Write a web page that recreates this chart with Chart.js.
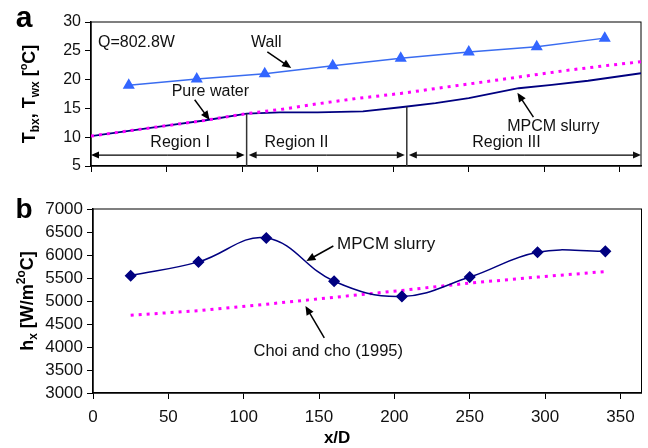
<!DOCTYPE html>
<html>
<head>
<meta charset="utf-8">
<script src="https://cdn.jsdelivr.net/npm/chart.js@4.4.1/dist/chart.umd.min.js"></script>
<style>
  html, body { margin: 0; padding: 0; background: #fff; }
  #wrap { position: relative; width: 648px; height: 448px; }
  #panelA { position: absolute; left: 0; top: 0; }
  #panelB { position: absolute; left: 0; top: 190px; }
</style>
</head>
<body>
<div id="wrap">
  <canvas id="panelA" width="648" height="190"></canvas>
  <canvas id="panelB" width="648" height="258"></canvas>
</div>
<script>
const FONT = "'Liberation Sans', Arial, Helvetica, sans-serif";

// shared x axis (x/D)
const xMax = 364;
const xTicks = [0, 50, 100, 150, 200, 250, 300, 350];

// panel a: bulk / wall temperatures
const wallX = [25, 70, 115, 160, 205, 250, 295, 340];
const wallT = [19.0, 20.1, 21.0, 22.4, 23.7, 24.8, 25.7, 27.2];
const waterX = [0, 25, 50, 75, 103, 125, 150, 175, 205, 235, 260, 290, 315, 340, 364];
const waterT = [10.2, 11.1, 12.0, 12.9, 14.1, 14.8, 15.8, 16.7, 17.6, 18.7, 19.6, 20.7, 21.6, 22.4, 23.1];
const slurryX = [0, 25, 50, 75, 103, 125, 150, 180, 205, 228, 250, 283, 305, 329, 364];
const slurryT = [10.2, 11.1, 12.0, 12.9, 14.1, 14.3, 14.3, 14.5, 15.2, 15.9, 16.8, 18.5, 19.1, 19.8, 21.1];
const tempTicks = [5, 10, 15, 20, 25, 30];

// regions along the tube
const regionX = [0, 103, 209, xMax];
const regionNames = ['Region I', 'Region II', 'Region III'];
const regionLabelX = [59, 136, 275];
const regionLineTopT = [14.1, 15.3];
const regionArrowT = 6.9;
const regionLabelT = 9.0;

// panel b: local heat transfer coefficient
const hX = [25, 70, 115, 160, 205, 250, 295, 340];
const hSlurry = [5550, 5850, 6370, 5430, 5100, 5520, 6060, 6080];
const hChoi = [4690, 4790, 4930, 5080, 5230, 5390, 5520, 5640];
const hTicks = [3000, 3500, 4000, 4500, 5000, 5500, 6000, 6500, 7000];

Chart.defaults.font.family = FONT;
Chart.defaults.color = '#111';

const pts = (xs, ys) => xs.map((v, i) => ({ x: v, y: ys[i] }));

function xAxis(labels, height) {
  return {
    type: 'linear', min: 0, max: xMax,
    afterBuildTicks: s => { s.ticks = xTicks.map(v => ({ value: v })); },
    afterFit: s => { s.height = height; },
    ticks: { display: labels, autoSkip: false, maxRotation: 0, padding: 8, font: { size: 17 }, color: '#111',
      callback: v => String(v) },
    grid: { display: true, drawOnChartArea: false, drawTicks: true, tickLength: 6, color: '#000', lineWidth: 1 },
    border: { display: true, color: '#000', width: 1.5 }
  };
}

function yAxis(ticks, width, size) {
  return {
    min: ticks[0], max: ticks[ticks.length - 1],
    afterBuildTicks: s => { s.ticks = ticks.map(v => ({ value: v })); },
    afterFit: s => { s.width = width; },
    ticks: { autoSkip: false, padding: 4, font: { size: size }, color: '#111', callback: v => String(v) },
    grid: { display: true, drawOnChartArea: false, drawTicks: true, tickLength: 6, color: '#000', lineWidth: 1 },
    border: { display: true, color: '#000', width: 1.5 }
  };
}

function arrow(ctx, x1, y1, x2, y2, len, half) {
  const a = Math.atan2(y2 - y1, x2 - x1);
  ctx.beginPath();
  ctx.moveTo(x1, y1);
  ctx.lineTo(x2 - Math.cos(a) * len * 0.8, y2 - Math.sin(a) * len * 0.8);
  ctx.stroke();
  ctx.beginPath();
  ctx.moveTo(x2, y2);
  ctx.lineTo(x2 - Math.cos(a) * len - Math.sin(a) * half, y2 - Math.sin(a) * len + Math.cos(a) * half);
  ctx.lineTo(x2 - Math.cos(a) * len + Math.sin(a) * half, y2 - Math.sin(a) * len - Math.cos(a) * half);
  ctx.closePath();
  ctx.fill();
}

// rotated axis title with sub/superscripts
function richTitle(ctx, parts, cx, cy) {
  ctx.save();
  ctx.translate(cx, cy);
  ctx.rotate(-Math.PI / 2);
  let total = 0;
  parts.forEach(p => { ctx.font = `bold ${p.size}px ${FONT}`; p.w = ctx.measureText(p.t).width; total += p.w; });
  let xx = -total / 2;
  ctx.fillStyle = '#000';
  ctx.textAlign = 'left';
  ctx.textBaseline = 'alphabetic';
  parts.forEach(p => { ctx.font = `bold ${p.size}px ${FONT}`; ctx.fillText(p.t, xx, p.dy || 0); xx += p.w; });
  ctx.restore();
}

function label(ctx, text, x, y, size, align) {
  ctx.font = `${size}px ${FONT}`;
  ctx.fillStyle = '#111';
  ctx.textAlign = align || 'center';
  ctx.textBaseline = 'middle';
  ctx.fillText(text, x, y);
}

const frame = {
  id: 'frame',
  beforeDatasetsDraw(chart) {
    const { ctx, chartArea: a } = chart;
    ctx.save();
    ctx.strokeStyle = '#000';
    ctx.lineWidth = 1;
    ctx.strokeRect(a.left, a.top, a.right - a.left, a.bottom - a.top);
    ctx.restore();
  }
};

const notesA = {
  id: 'notesA',
  afterDraw(chart) {
    const { ctx, chartArea: a, scales: { x, y } } = chart;
    ctx.save();
    // region dividers and extent arrows
    ctx.strokeStyle = '#333';
    ctx.lineWidth = 1.5;
    [1, 2].forEach((k, i) => {
      const px = x.getPixelForValue(regionX[k]);
      ctx.beginPath();
      ctx.moveTo(px, a.bottom);
      ctx.lineTo(px, y.getPixelForValue(regionLineTopT[i]));
      ctx.stroke();
    });
    ctx.strokeStyle = '#000';
    ctx.fillStyle = '#000';
    ctx.lineWidth = 1.3;
    const ay = y.getPixelForValue(regionArrowT);
    for (let k = 0; k < 3; k++) {
      const x1 = x.getPixelForValue(regionX[k]) + (k ? 2 : 0);
      const x2 = x.getPixelForValue(regionX[k + 1]) - (k < 2 ? 2 : 0);
      const m = (x1 + x2) / 2;
      arrow(ctx, m, ay, x1, ay, 8, 3.5);
      arrow(ctx, m, ay, x2, ay, 8, 3.5);
      label(ctx, regionNames[k], x.getPixelForValue(regionLabelX[k]), y.getPixelForValue(regionLabelT), 16);
    }
    // curve annotations
    label(ctx, 'Q=802.8W', x.getPixelForValue(4.6), y.getPixelForValue(26.35), 16, 'left');
    label(ctx, 'Wall', x.getPixelForValue(116), y.getPixelForValue(26.35), 16);
    label(ctx, 'Pure water', x.getPixelForValue(79), y.getPixelForValue(18.0), 16);
    label(ctx, 'MPCM slurry', x.getPixelForValue(306), y.getPixelForValue(11.8), 16);
    ctx.fillStyle = '#000';
    ctx.lineWidth = 1.5;
    arrow(ctx, x.getPixelForValue(116.7), y.getPixelForValue(24.8), x.getPixelForValue(132.5), y.getPixelForValue(22.0), 9, 4);
    arrow(ctx, x.getPixelForValue(68.6), y.getPixelForValue(16.5), x.getPixelForValue(78.5), y.getPixelForValue(13.0), 9, 4);
    arrow(ctx, x.getPixelForValue(292.8), y.getPixelForValue(13.5), x.getPixelForValue(282.2), y.getPixelForValue(17.7), 9, 4);
    // panel letter and axis title
    ctx.font = `bold 30px ${FONT}`;
    ctx.fillStyle = '#000';
    ctx.textAlign = 'center';
    ctx.textBaseline = 'alphabetic';
    ctx.fillText('a', 24, 27);
    richTitle(ctx, [
      { t: 'T', size: 18 }, { t: 'bx', size: 12, dy: 4 }, { t: ', T', size: 18 },
      { t: 'wx', size: 12, dy: 4 }, { t: ' [', size: 18 }, { t: 'o', size: 11, dy: -8 }, { t: 'C]', size: 18 }
    ], 35, (a.top + a.bottom) / 2);
    ctx.restore();
  }
};

const notesB = {
  id: 'notesB',
  afterDraw(chart) {
    const { ctx, chartArea: a, scales: { x, y } } = chart;
    ctx.save();
    label(ctx, 'MPCM slurry', x.getPixelForValue(162), y.getPixelForValue(6239), 17, 'left');
    label(ctx, 'Choi and cho (1995)', x.getPixelForValue(106.5), y.getPixelForValue(3913), 16.5, 'left');
    ctx.strokeStyle = '#000';
    ctx.fillStyle = '#000';
    ctx.lineWidth = 1.5;
    arrow(ctx, x.getPixelForValue(159.5), y.getPixelForValue(6196), x.getPixelForValue(141.6), y.getPixelForValue(5870), 9, 4);
    arrow(ctx, x.getPixelForValue(153.5), y.getPixelForValue(4196), x.getPixelForValue(141), y.getPixelForValue(4891), 9, 4);
    ctx.font = `bold 28px ${FONT}`;
    ctx.fillStyle = '#000';
    ctx.textAlign = 'center';
    ctx.textBaseline = 'alphabetic';
    ctx.fillText('b', 24, 28);
    ctx.font = `bold 17px ${FONT}`;
    ctx.textBaseline = 'middle';
    ctx.fillText('x/D', x.getPixelForValue(162), 248);
    richTitle(ctx, [
      { t: 'h', size: 18 }, { t: 'x', size: 12, dy: 4 }, { t: ' [W/m', size: 18 },
      { t: '2o', size: 12, dy: -8 }, { t: 'C]', size: 18 }
    ], 33, (a.top + a.bottom) / 2);
    ctx.restore();
  }
};

new Chart(document.getElementById('panelA'), {
  type: 'line',
  data: {
    datasets: [
      { label: 'Pure water', data: pts(waterX, waterT), borderColor: '#ff00ff', borderWidth: 3,
        borderDash: [3, 5], pointRadius: 0, tension: 0 },
      { label: 'MPCM slurry', data: pts(slurryX, slurryT), borderColor: '#000080', borderWidth: 1.8,
        pointRadius: 0, tension: 0 },
      { label: 'Wall', data: pts(wallX, wallT), borderColor: '#3a6cf0', borderWidth: 1.5,
        pointStyle: 'triangle', pointRadius: 5.5, pointBackgroundColor: '#3366ff',
        pointBorderColor: '#3366ff', tension: 0 }
    ]
  },
  options: {
    responsive: false, animation: false, devicePixelRatio: 1,
    layout: { padding: { left: 0, top: 22, right: 5, bottom: 0 } },
    plugins: { legend: { display: false }, tooltip: { enabled: false } },
    scales: { x: xAxis(false, 24), y: yAxis(tempTicks, 91, 16) }
  },
  plugins: [frame, notesA]
});

new Chart(document.getElementById('panelB'), {
  type: 'line',
  data: {
    datasets: [
      { label: 'MPCM slurry', data: pts(hX, hSlurry), borderColor: '#000080', borderWidth: 1.5,
        pointStyle: 'rectRot', pointRadius: 5, pointBackgroundColor: '#000080',
        pointBorderColor: '#000080', tension: 0.4 },
      { label: 'Choi and cho (1995)', data: pts(hX, hChoi), borderColor: '#ff00ff', borderWidth: 3,
        borderDash: [3, 5], pointRadius: 0, tension: 0 }
    ]
  },
  options: {
    responsive: false, animation: false, devicePixelRatio: 1,
    layout: { padding: { left: 0, top: 19, right: 5, bottom: 0 } },
    plugins: { legend: { display: false }, tooltip: { enabled: false } },
    scales: { x: xAxis(true, 55), y: yAxis(hTicks, 93, 17) }
  },
  plugins: [frame, notesB]
});
</script>
</body>
</html>
